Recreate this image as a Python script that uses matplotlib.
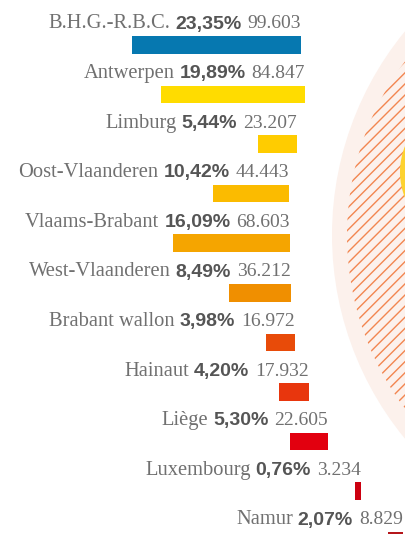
import matplotlib
matplotlib.use("Agg")
import matplotlib.pyplot as plt
from matplotlib.patches import Circle, Ellipse

# data
regions = ["B.H.G.-R.B.C.", "Antwerpen", "Limburg", "Oost-Vlaanderen", "Vlaams-Brabant",
           "West-Vlaanderen", "Brabant wallon", "Hainaut", "Liège", "Luxembourg", "Namur"]
pct = [23.35, 19.89, 5.44, 10.42, 16.09, 8.49, 3.98, 4.20, 5.30, 0.76, 2.07]
pct_labels = ["23,35%", "19,89%", "5,44%", "10,42%", "16,09%", "8,49%", "3,98%",
              "4,20%", "5,30%", "0,76%", "2,07%"]
counts = ["99.603", "84.847", "23.207", "44.443", "68.603", "36.212", "16.972",
          "17.932", "22.605", "3.234", "8.829"]

colors = ["#0678b0", "#ffdc00", "#ffcc00", "#fbbb00", "#f5a500", "#f08f00",
          "#e84b09", "#e8360d", "#e2000f", "#cc0010", "#b5161b"]

# layout: right edge of each row (label + bar), pixels
anchor_x = [301, 305, 297, 289, 290, 291, 295, 309, 328, 361, 403]
px_per_pct = 7.25
row_step = 49.6
first_bar_top = 36
bar_h = 17.5

W, H = 406, 534
fig = plt.figure(figsize=(W / 100, H / 100), dpi=100)
ax = fig.add_axes([0, 0, 1, 1])
ax.set_xlim(0, W)
ax.set_ylim(H, 0)
ax.axis("off")

# background circles on the right
ax.add_patch(Circle((653, 235), 321, facecolor="#fcf1ec", edgecolor="none", zorder=0))
ax.add_patch(Circle((636, 235), 289, facecolor="none", edgecolor="#f28650",
                    hatch="///", lw=0, zorder=1))
ax.add_patch(Ellipse((470, 172), 140, 140, facecolor="#fdd230", edgecolor="none", zorder=2))

serif = "Liberation Serif"
sans = "Liberation Sans"
grey = "#707070"
dark = "#555555"

renderer = fig.canvas.get_renderer()

for i, name in enumerate(regions):
    top = first_bar_top + i * row_step
    w = pct[i] * px_per_pct
    right = anchor_x[i]
    ax.barh(top + bar_h / 2, w, height=bar_h, left=right - w, color=colors[i], zorder=3)

    base = top - 7.5
    x = right
    t = ax.text(x, base, counts[i], ha="right", va="baseline", fontsize=14,
                family=serif, color=grey, zorder=4)
    x -= t.get_window_extent(renderer).width + 6
    t = ax.text(x, base, pct_labels[i], ha="right", va="baseline", fontsize=14,
                family=sans, weight="bold", color=dark, zorder=4)
    x -= t.get_window_extent(renderer).width + 5
    ax.text(x, base, name, ha="right", va="baseline", fontsize=14.8,
            family=serif, color=grey, zorder=4)

fig.savefig("out.png", dpi=100)
